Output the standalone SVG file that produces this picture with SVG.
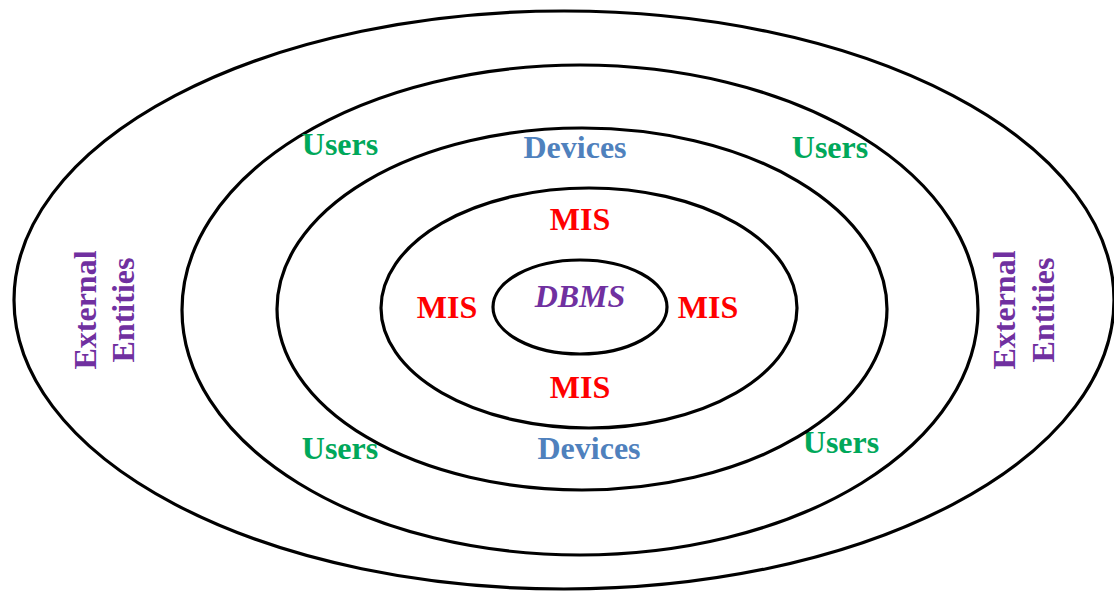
<svg xmlns="http://www.w3.org/2000/svg" width="1114" height="591" viewBox="0 0 1114 591">
<style>
.ring{fill:none;stroke:#000;stroke-width:3.2}
text{font-family:"Liberation Serif","Times New Roman",serif;font-weight:bold;font-size:32px;text-anchor:middle}
.mis{fill:#FF0000}
.users{fill:#00A85A}
.dev{fill:#4F81BD}
.ext{fill:#7030A0}
.db{fill:#7030A0;font-style:italic}
</style>
<rect width="1114" height="591" fill="#fff"/>
<g id="ring-external">
<ellipse class="ring" cx="564" cy="300" rx="550" ry="289"/>
<text class="ext" transform="translate(96,310) rotate(-90)">External</text>
<text class="ext" transform="translate(134,310) rotate(-90)">Entities</text>
<text class="ext" transform="translate(1015,310) rotate(-90)">External</text>
<text class="ext" transform="translate(1054,310) rotate(-90)">Entities</text>
</g>
<g id="ring-users">
<ellipse class="ring" cx="580" cy="310" rx="398" ry="245"/>
<text class="users" x="340" y="155">Users</text>
<text class="users" x="830" y="158">Users</text>
<text class="users" x="340" y="459">Users</text>
<text class="users" x="841" y="453">Users</text>
</g>
<g id="ring-devices">
<ellipse class="ring" cx="582" cy="309" rx="305" ry="181"/>
<text class="dev" x="575" y="158">Devices</text>
<text class="dev" x="589" y="459">Devices</text>
</g>
<g id="ring-mis">
<ellipse class="ring" cx="589" cy="308" rx="208" ry="120"/>
<text class="mis" x="580" y="230">MIS</text>
<text class="mis" x="447" y="318">MIS</text>
<text class="mis" x="708" y="318">MIS</text>
<text class="mis" x="580" y="398">MIS</text>
</g>
<g id="core-dbms">
<ellipse class="ring" cx="580" cy="307" rx="87" ry="47"/>
<text class="db" x="580" y="307">DBMS</text>
</g>
<g id="connectors"/>
</svg>
